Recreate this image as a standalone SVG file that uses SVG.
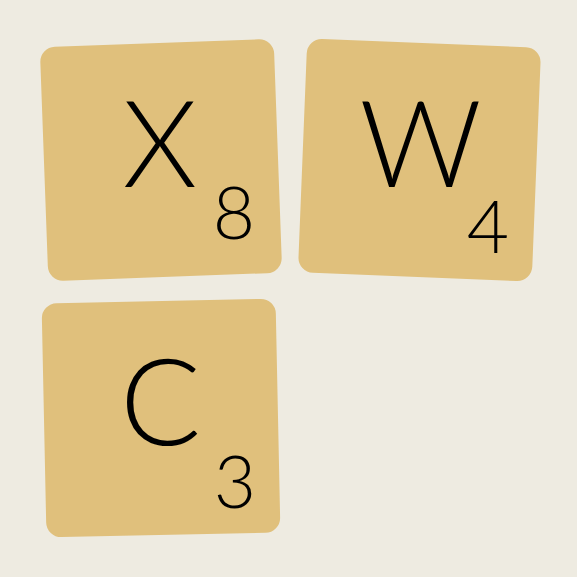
<svg xmlns="http://www.w3.org/2000/svg" width="577" height="577" viewBox="0 0 577 577">
<style>
.tile{fill:#E0C07C}
.big{font-family:Lato,"Liberation Sans",sans-serif;font-weight:300;font-size:120px;fill:#000;text-anchor:middle}
.num{font-family:Lato,"Liberation Sans",sans-serif;font-weight:300;font-size:73px;fill:#000;text-anchor:middle}
</style>
<rect width="577" height="577" fill="#EEEBE1"/>
<g id="tile-x">
<rect class="tile" x="-117" y="-117" width="234" height="234" rx="15" transform="translate(161 160) rotate(-2.1)"/>
<text class="big" x="160" y="187">X</text>
<text class="num" x="234" y="239">8</text>
</g>
<g id="tile-w">
<rect class="tile" x="-117" y="-117" width="234" height="234" rx="15" transform="translate(419.5 160) rotate(2.3)"/>
<text class="big" x="420.5" y="187">W</text>
<text class="num" x="488" y="253">4</text>
</g>
<g id="tile-c">
<rect class="tile" x="-117" y="-117" width="234" height="234" rx="15" transform="translate(161 418) rotate(-1.2)"/>
<text class="big" x="160.5" y="445">C</text>
<text class="num" x="235" y="508">3</text>
</g>
<g id="connectors"/>
</svg>
